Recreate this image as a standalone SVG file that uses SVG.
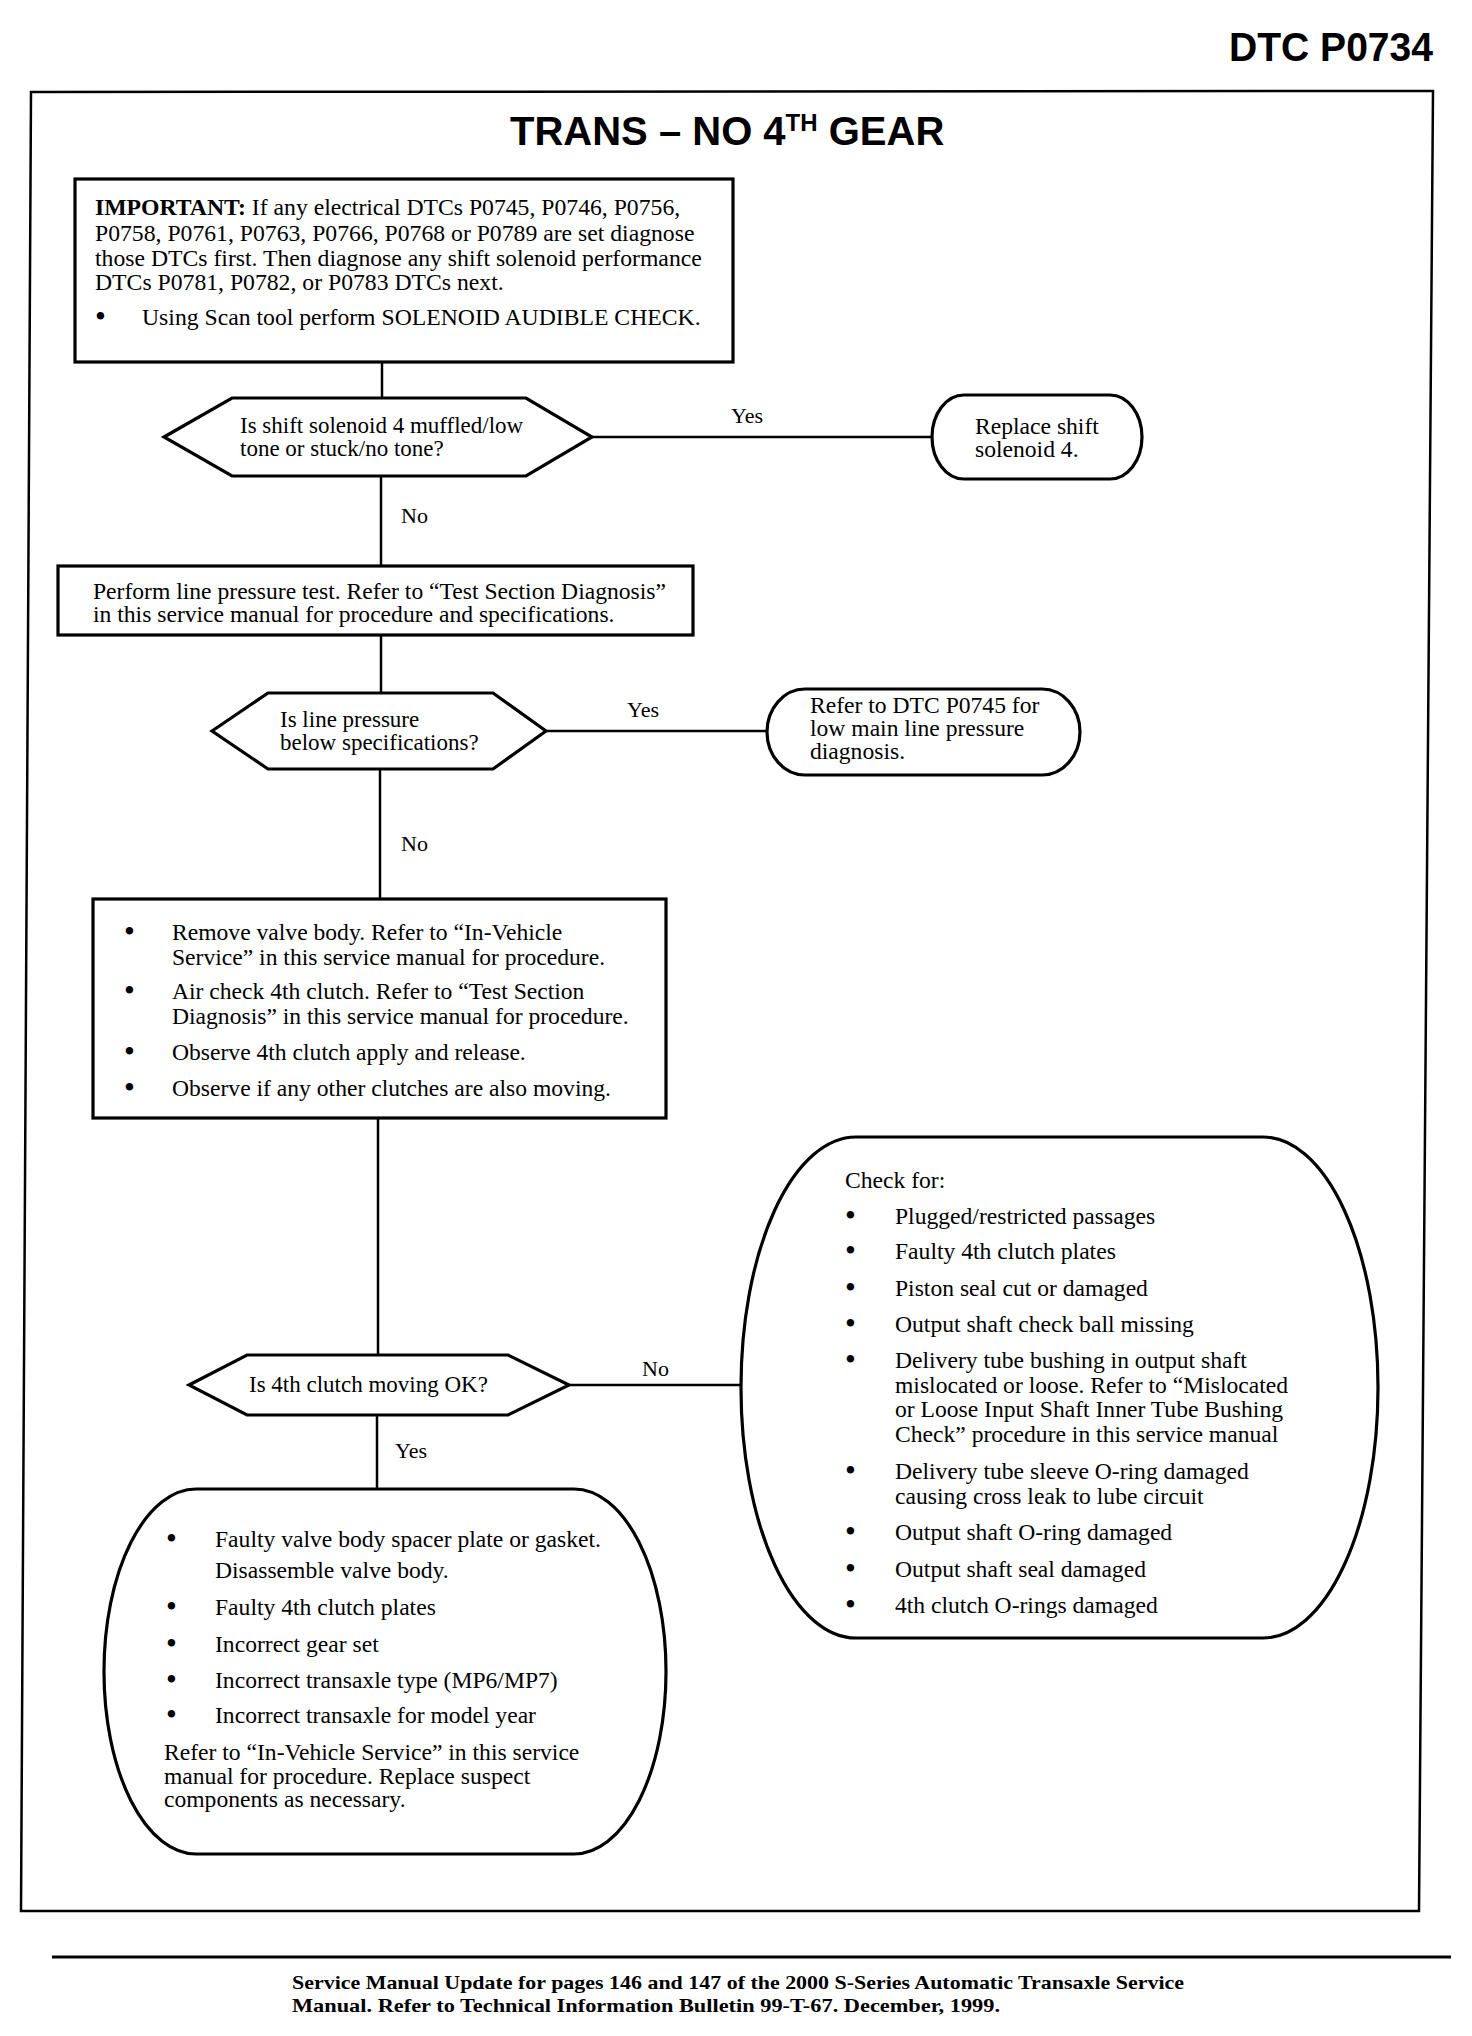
<svg xmlns="http://www.w3.org/2000/svg" width="1472" height="2036" viewBox="0 0 1472 2036">
<style>
.t{font-family:"Liberation Serif","Times New Roman",serif;font-size:23.6px;fill:#000}
.b1{font-family:"Liberation Serif","Times New Roman",serif;font-size:23.7px;fill:#000}
.hx{font-family:"Liberation Serif","Times New Roman",serif;font-size:23px;fill:#000}
.bu{font-family:"Liberation Serif","Times New Roman",serif;font-size:31px;fill:#000}
.lb{font-family:"Liberation Serif","Times New Roman",serif;font-size:22px;fill:#000}
.h{font-family:"Liberation Sans",Arial,sans-serif;font-weight:bold;fill:#000}
.ft{font-family:"Liberation Serif","Times New Roman",serif;font-weight:bold;font-size:19px;fill:#000}
.box{fill:#fff;stroke:#000;stroke-width:3.2}
.con{stroke:#000;stroke-width:2.5;fill:none}
</style>
<rect width="1472" height="2036" fill="#fff"/>
<text class="h" x="1433" y="61" font-size="40" text-anchor="end" textLength="204" lengthAdjust="spacingAndGlyphs">DTC P0734</text>
<path d="M31,92 L1433,91 L1419,1911 L21,1911 Z" fill="none" stroke="#000" stroke-width="2.5"/>
<text class="h" x="510" y="145" font-size="40">TRANS – NO 4<tspan font-size="24" dy="-14">TH</tspan><tspan dy="14"> GEAR</tspan></text>

<g id="connectors">
<line class="con" x1="382" y1="362" x2="382" y2="398"/>
<line class="con" x1="592" y1="437" x2="932" y2="437"/>
<line class="con" x1="381" y1="476" x2="381" y2="566"/>
<line class="con" x1="381" y1="635" x2="381" y2="693"/>
<line class="con" x1="546" y1="731" x2="767" y2="731"/>
<line class="con" x1="380" y1="769" x2="380" y2="899"/>
<line class="con" x1="378" y1="1118" x2="378" y2="1355"/>
<line class="con" x1="569" y1="1385" x2="741" y2="1385"/>
<line class="con" x1="377" y1="1415" x2="377" y2="1489"/>
<text class="lb" x="731" y="423">Yes</text>
<text class="lb" x="401" y="523">No</text>
<text class="lb" x="627" y="717">Yes</text>
<text class="lb" x="401" y="851">No</text>
<text class="lb" x="642" y="1376">No</text>
<text class="lb" x="395" y="1458">Yes</text>
</g>

<g id="n1">
<rect class="box" x="75" y="179" width="658" height="183"/>
<text class="b1" x="95" y="215"><tspan font-weight="bold">IMPORTANT:</tspan> If any electrical DTCs P0745, P0746, P0756,</text>
<text class="b1" x="95" y="241">P0758, P0761, P0763, P0766, P0768 or P0789 are set diagnose</text>
<text class="b1" x="95" y="266">those DTCs first. Then diagnose any shift solenoid performance</text>
<text class="b1" x="95" y="290">DTCs P0781, P0782, or P0783 DTCs next.</text>
<text class="bu" x="95" y="327">•</text>
<text class="b1" x="142" y="325">Using Scan tool perform SOLENOID AUDIBLE CHECK.</text>
</g>

<g id="n2">
<polygon class="box" points="164,437 232,398 526,398 592,437 526,476 232,476"/>
<text class="hx" x="240" y="433">Is shift solenoid 4 muffled/low</text>
<text class="hx" x="240" y="456">tone or stuck/no tone?</text>
</g>

<g id="n3">
<rect class="box" x="932" y="395" width="210" height="84" rx="32" ry="42"/>
<text class="t" x="975" y="434">Replace shift</text>
<text class="t" x="975" y="457">solenoid 4.</text>
</g>

<g id="n4">
<rect class="box" x="58" y="566" width="635" height="69"/>
<text class="t" x="93" y="599">Perform line pressure test. Refer to “Test Section Diagnosis”</text>
<text class="t" x="93" y="622">in this service manual for procedure and specifications.</text>
</g>

<g id="n5">
<polygon class="box" points="212,731 268,693 493,693 546,731 493,769 268,769"/>
<text class="hx" x="280" y="727">Is line pressure</text>
<text class="hx" x="280" y="750">below specifications?</text>
</g>

<g id="n6">
<rect class="box" x="767" y="689" width="313" height="86" rx="38" ry="43"/>
<text class="t" x="810" y="713">Refer to DTC P0745 for</text>
<text class="t" x="810" y="736">low main line pressure</text>
<text class="t" x="810" y="759">diagnosis.</text>
</g>

<g id="n7">
<rect class="box" x="93" y="899" width="573" height="219"/>
<text class="bu" x="124" y="942">•</text>
<text class="t" x="172" y="940">Remove valve body. Refer to “In-Vehicle</text>
<text class="t" x="172" y="965">Service” in this service manual for procedure.</text>
<text class="bu" x="124" y="1001">•</text>
<text class="t" x="172" y="999">Air check 4th clutch. Refer to “Test Section</text>
<text class="t" x="172" y="1024">Diagnosis” in this service manual for procedure.</text>
<text class="bu" x="124" y="1062">•</text>
<text class="t" x="172" y="1060">Observe 4th clutch apply and release.</text>
<text class="bu" x="124" y="1098">•</text>
<text class="t" x="172" y="1096">Observe if any other clutches are also moving.</text>
</g>

<g id="n8">
<polygon class="box" points="189,1385 247,1355 508,1355 569,1385 508,1415 247,1415"/>
<text class="hx" x="249" y="1392">Is 4th clutch moving OK?</text>
</g>

<g id="n9">
<rect class="box" x="741" y="1137" width="637" height="501" rx="115" ry="250"/>
<text class="t" x="845" y="1188">Check for:</text>
<text class="bu" x="845" y="1226">•</text>
<text class="t" x="895" y="1224">Plugged/restricted passages</text>
<text class="bu" x="845" y="1261">•</text>
<text class="t" x="895" y="1259">Faulty 4th clutch plates</text>
<text class="bu" x="845" y="1298">•</text>
<text class="t" x="895" y="1296">Piston seal cut or damaged</text>
<text class="bu" x="845" y="1334">•</text>
<text class="t" x="895" y="1332">Output shaft check ball missing</text>
<text class="bu" x="845" y="1370">•</text>
<text class="t" x="895" y="1368">Delivery tube bushing in output shaft</text>
<text class="t" x="895" y="1393">mislocated or loose. Refer to “Mislocated</text>
<text class="t" x="895" y="1417">or Loose Input Shaft Inner Tube Bushing</text>
<text class="t" x="895" y="1442">Check” procedure in this service manual</text>
<text class="bu" x="845" y="1481">•</text>
<text class="t" x="895" y="1479">Delivery tube sleeve O-ring damaged</text>
<text class="t" x="895" y="1504">causing cross leak to lube circuit</text>
<text class="bu" x="845" y="1542">•</text>
<text class="t" x="895" y="1540">Output shaft O-ring damaged</text>
<text class="bu" x="845" y="1579">•</text>
<text class="t" x="895" y="1577">Output shaft seal damaged</text>
<text class="bu" x="845" y="1615">•</text>
<text class="t" x="895" y="1613">4th clutch O-rings damaged</text>
</g>

<g id="n10">
<rect class="box" x="104" y="1489" width="562" height="365" rx="92" ry="182"/>
<text class="bu" x="166" y="1549">•</text>
<text class="t" x="215" y="1547">Faulty valve body spacer plate or gasket.</text>
<text class="t" x="215" y="1578">Disassemble valve body.</text>
<text class="bu" x="166" y="1617">•</text>
<text class="t" x="215" y="1615">Faulty 4th clutch plates</text>
<text class="bu" x="166" y="1654">•</text>
<text class="t" x="215" y="1652">Incorrect gear set</text>
<text class="bu" x="166" y="1690">•</text>
<text class="t" x="215" y="1688">Incorrect transaxle type (MP6/MP7)</text>
<text class="bu" x="166" y="1725">•</text>
<text class="t" x="215" y="1723">Incorrect transaxle for model year</text>
<text class="t" x="164" y="1760">Refer to “In-Vehicle Service” in this service</text>
<text class="t" x="164" y="1784">manual for procedure. Replace suspect</text>
<text class="t" x="164" y="1807">components as necessary.</text>
</g>

<line x1="52" y1="1957" x2="1451" y2="1957" stroke="#000" stroke-width="3"/>
<text class="ft" x="292" y="1989" textLength="892" lengthAdjust="spacingAndGlyphs">Service Manual Update for pages 146 and 147 of the 2000  S-Series Automatic Transaxle Service</text>
<text class="ft" x="292" y="2012" textLength="708" lengthAdjust="spacingAndGlyphs">Manual. Refer to Technical Information Bulletin 99-T-67. December, 1999.</text>
</svg>
